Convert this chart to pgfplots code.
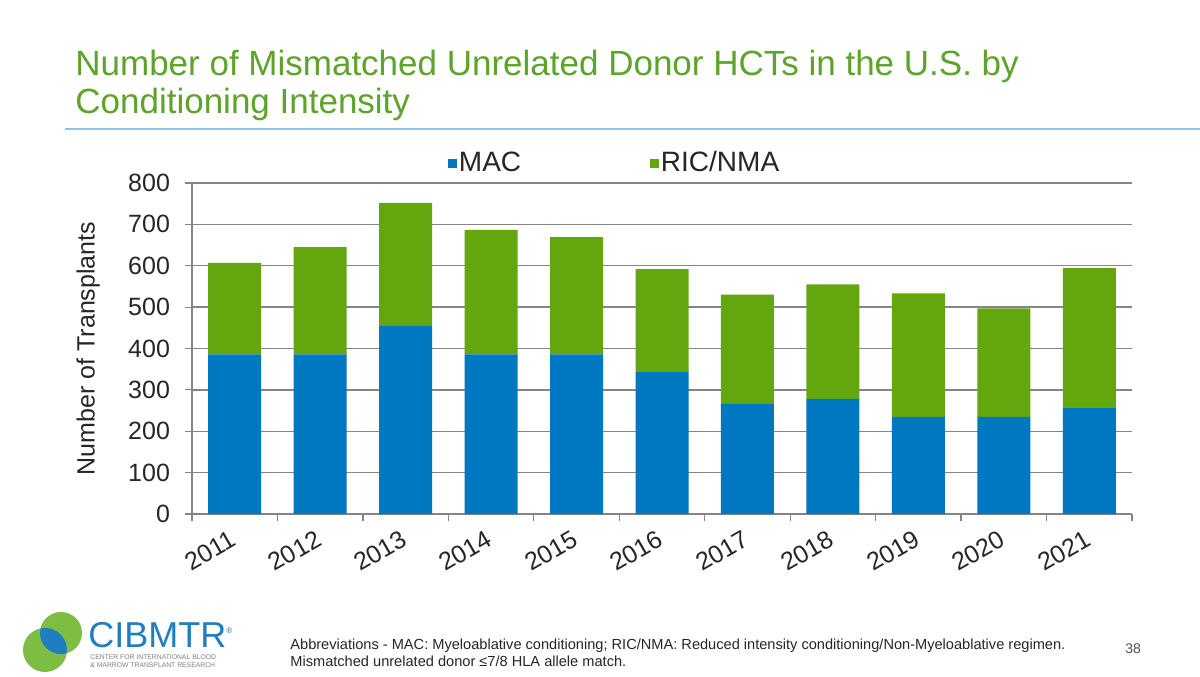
\documentclass[border=0pt]{standalone}
\usepackage{pgfplots}
\pgfplotsset{compat=1.18}
\usepackage{pgfplotstable}
\usepackage{fontspec}
\setmainfont{Liberation Sans}
\definecolor{macblue}{HTML}{0077C1}
\definecolor{ricgreen}{HTML}{64A60E}
\definecolor{titlegreen}{HTML}{5EA32A}
\definecolor{rulblue}{HTML}{8CC6E4}
\definecolor{gridgray}{HTML}{858585}
\definecolor{txt}{HTML}{262626}
\definecolor{logoblue}{HTML}{1F7DC1}
\definecolor{logogreen}{HTML}{7DBE42}

\pgfplotstableread{
x year mac ric
0 2011 386 221
1 2012 386 259
2 2013 454 298
3 2014 386 301
4 2015 386 283
5 2016 343 249
6 2017 266 264
7 2018 278 277
8 2019 235 298
9 2020 235 262
10 2021 258 336
}\datatable

\begin{document}
\begin{tikzpicture}[x=1pt,y=1pt]
\useasboundingbox[fill=white] (0pt,0pt) rectangle (600pt,338pt);
% title
\node[anchor=base west, text=titlegreen, font=\fontsize{17.5}{20}\selectfont, inner sep=0] at (37.5pt,300pt) {Number of Mismatched Unrelated Donor HCTs in the U.S. by};
\node[anchor=base west, text=titlegreen, font=\fontsize{17.5}{20}\selectfont, inner sep=0] at (37.5pt,281pt) {Conditioning Intensity};
\draw[rulblue, line width=1pt] (32.5pt,273.5pt) -- (600pt,273.5pt);

\begin{axis}[
  at={(96pt,81pt)}, anchor=south west,
  scale only axis, width=470pt, height=165.5pt,
  xmin=-0.5, xmax=10.5, ymin=0, ymax=800,
  ybar stacked, bar width=26.5pt,
  axis x line*=bottom, axis y line*=left,
  axis line style={gridgray, line width=0.6pt},
  ymajorgrids, grid style={gridgray, line width=0.7pt},
  ytick={0,100,...,800},
  tick align=outside, major tick length=3.5pt, minor tick length=3.5pt,
  y tick style={gridgray, line width=0.6pt},
  xtick={0,...,10},
  xticklabels={2011,2012,2013,2014,2015,2016,2017,2018,2019,2020,2021},
  minor xtick={-0.5,0.5,...,10.5},
  major x tick style={draw=none},
  minor x tick style={gridgray, line width=0.6pt},
  /pgf/number format/assume math mode=true,
  tick label style={font=\fontsize{12.5}{15}\selectfont, text=txt},
  yticklabel style={xshift=-4pt},
  xticklabel style={rotate=30, anchor=north east, xshift=-1pt, yshift=1.5pt},
  ylabel={Number of Transplants},
  ylabel style={font=\fontsize{12.5}{15}\selectfont, text=txt, at={(axis description cs:-0.1106,0.5)}, anchor=center},
  legend columns=2,
  legend style={at={(axis description cs:0.2721,1.06)}, anchor=west, draw=none, fill=none,
     font=\fontsize{14}{16}\selectfont, text=txt, inner sep=0pt,
     nodes={inner sep=1pt},
     /tikz/every even column/.append style={column sep=63.5pt}},
  legend image code/.code={\fill[#1,draw=none] (0pt,-2.2pt) rectangle (4.4pt,2.2pt);},
]
\addplot[fill=macblue, draw=none] table[x=x, y=mac] {\datatable};
\addplot[fill=ricgreen, draw=none] table[x=x, y=ric] {\datatable};
\legend{MAC, RIC/NMA}
\end{axis}

% footer logo
\fill[logogreen] (22.5pt,13pt) circle (11pt);
\fill[logogreen] (30.5pt,21.5pt) circle (10.5pt);
\begin{scope}
\clip (22.5pt,13pt) circle (11pt);
\fill[logoblue] (30.5pt,21.5pt) circle (10.5pt);
\end{scope}
\node[anchor=base west, inner sep=0, text=logoblue, font=\fontsize{18}{20}\selectfont] at (44pt,14.5pt) {CIBMTR\raisebox{7pt}{\fontsize{4}{4}\selectfont\textregistered}};
\node[anchor=base west, inner sep=0, text=gray, font=\fontsize{3.4}{4}\selectfont] at (45pt,8.5pt) {CENTER FOR INTERNATIONAL BLOOD};
\node[anchor=base west, inner sep=0, text=gray, font=\fontsize{3.4}{4}\selectfont] at (45pt,4.5pt) {\& MARROW TRANSPLANT RESEARCH};
\node[anchor=base west, inner sep=0, text=txt, font=\fontsize{7.3}{8}\selectfont] at (145pt,13.5pt) {Abbreviations - MAC: Myeloablative conditioning; RIC/NMA: Reduced intensity conditioning/Non-Myeloablative regimen.};
\node[anchor=base west, inner sep=0, text=txt, font=\fontsize{7.3}{8}\selectfont] at (145pt,5pt) {Mismatched unrelated donor ≤7/8 HLA allele match.};
\node[anchor=base west, inner sep=0, text=txt!80, font=\fontsize{7}{8}\selectfont] at (562.5pt,11.5pt) {38};
\end{tikzpicture}
\end{document}
